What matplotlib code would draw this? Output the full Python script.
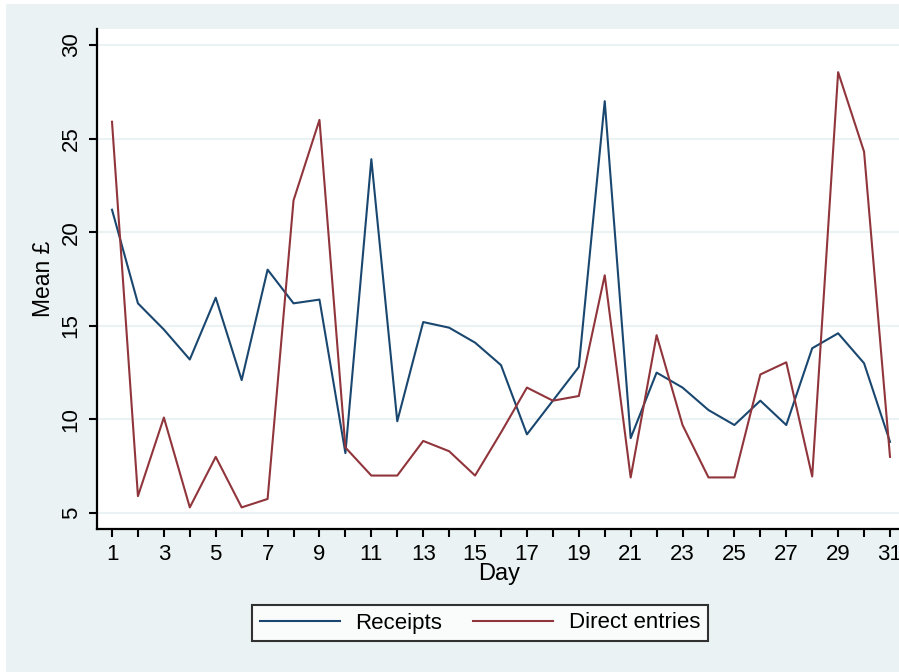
import matplotlib.pyplot as plt
from matplotlib.patches import Rectangle

days = list(range(1, 32))
receipts = [21.2, 16.2, 14.8, 13.2, 16.5, 12.1, 18.0, 16.2, 16.4, 8.2,
            23.9, 9.9, 15.2, 14.9, 14.1, 12.9, 9.2, 11.0, 12.8, 27.0,
            9.0, 12.5, 11.7, 10.5, 9.7, 11.0, 9.7, 13.8, 14.6, 13.0, 8.8]
direct = [25.9, 5.9, 10.1, 5.3, 8.0, 5.3, 5.75, 21.7, 26.0, 8.5,
          7.0, 7.0, 8.85, 8.3, 7.0, 9.3, 11.7, 11.0, 11.25, 17.7,
          6.9, 14.5, 9.7, 6.9, 6.9, 12.4, 13.05, 6.95, 28.55, 24.3, 8.0]
y_ticks = [5, 10, 15, 20, 25, 30]

W, H = 899, 672
BG = "#eaf2f3"
BLUE = "#1a476f"
RED = "#90353b"

plt.rcParams["font.family"] = ["Liberation Sans", "DejaVu Sans"]

fig = plt.figure(figsize=(W / 100, H / 100), dpi=100, facecolor="white")
fig.patches.append(Rectangle((6 / W, 0), 1, 1 - 4 / H, transform=fig.transFigure,
                             facecolor=BG, edgecolor="none", zorder=-5))

ax = fig.add_axes([97 / W, 1 - 529 / H, (W - 97) / W, 500 / H])
ax.set_facecolor("white")

ax.plot(days, receipts, color=BLUE, lw=1.5, label="Receipts", zorder=3)
ax.plot(days, direct, color=RED, lw=1.5, label="Direct entries", zorder=3)

ax.set_xlim(1 - 15 / 25.93, 31 + 9 / 25.93)
ax.set_ylim(5 - 16 / 18.72, 5 + 484 / 18.72)

ax.set_xticks(days)
ax.set_xticklabels([str(d) if d % 2 == 1 else "" for d in days])
ax.set_yticks(y_ticks)
ax.set_yticklabels([str(v) for v in y_ticks], rotation=90, va="center")
ax.tick_params(axis="both", direction="out", length=6, width=1.5,
               labelsize=16, pad=5)
ax.grid(axis="y", color=BG, lw=1.5, zorder=0)
ax.set_axisbelow(True)

for side in ["top", "right"]:
    ax.spines[side].set_visible(False)
for side in ["left", "bottom"]:
    ax.spines[side].set_linewidth(1.6)

fig.text(43 / W, 1 - 279 / H, "Mean £", rotation=90, fontsize=16.5,
         ha="center", va="center")
fig.text(499 / W, 1 - 574 / H, "Day", fontsize=17, ha="center", va="center")

leg = fig.legend(loc="center", bbox_to_anchor=(480 / W, 1 - 623 / H), ncol=2,
                 fontsize=16, frameon=True, fancybox=False, handlelength=3.6,
                 handletextpad=0.7, columnspacing=1.4, borderpad=0.35)
leg.get_frame().set_edgecolor("black")
leg.get_frame().set_linewidth(1.5)

fig.savefig("out.png", dpi=100, facecolor=fig.get_facecolor())
